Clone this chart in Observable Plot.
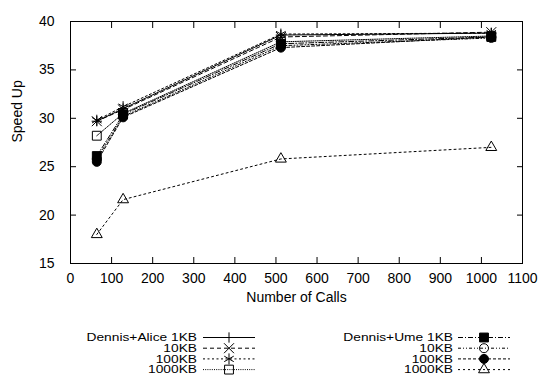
<!DOCTYPE html>
<html>
<head>
<meta charset="utf-8">
<script src="https://cdn.jsdelivr.net/npm/d3@7"></script>
<script src="https://cdn.jsdelivr.net/npm/@observablehq/plot@0.6"></script>
<style>
  html, body { margin: 0; padding: 0; background: white; }
  #chart { width: 543px; height: 385px; }
</style>
</head>
<body>
<div id="chart"></div>
<script>
// ---- data ----
const calls = [64, 128, 512, 1024];
const alice1KB    = [29.7, 31.0, 38.6, 38.8];
const alice10KB   = [29.7, 30.9, 38.4, 38.9];
const alice100KB  = [29.8, 31.2, 38.7, 38.8];
const alice1000KB = [28.2, 30.5, 37.9, 38.5];
const ume1KB      = [26.1, 30.4, 37.7, 38.4];
const ume10KB     = [25.8, 30.2, 37.5, 38.3];
const ume100KB    = [25.5, 30.1, 37.3, 38.4];
const ume1000KB   = [18.0, 21.6, 25.8, 27.0];
const seriesLabels = ["Dennis+Alice 1KB", "10KB", "100KB", "1000KB",
                      "Dennis+Ume 1KB", "10KB", "100KB", "1000KB"];
const xTicks = [0, 100, 200, 300, 400, 500, 600, 700, 800, 900, 1000, 1100];
const yTicks = [15, 20, 25, 30, 35, 40];
const xLabel = "Number of Calls";
const yLabel = "Speed Up";

// ---- styles ----
const styles = [
  {symbol: d3.symbolPlus,     r: 3.4, dash: null,          fill: "none"},
  {symbol: d3.symbolTimes,    r: 4.6, dash: "4,3",         fill: "none"},
  {symbol: d3.symbolAsterisk, r: 5.2, dash: "2,2.5",       fill: "none"},
  {symbol: d3.symbolSquare,   r: 5.0, dash: "1,1.2",       fill: "none"},
  {symbol: d3.symbolSquare,   r: 5.0, dash: "5,2,1,2",     fill: "black"},
  {symbol: d3.symbolCircle,   r: 4.5, dash: "3,2,1,2,1,2", fill: "none"},
  {symbol: d3.symbolCircle,   r: 4.5, dash: "3,2",         fill: "black"},
  {symbol: d3.symbolTriangle2,r: 5.2, dash: "2,3",         fill: "none"}
];
const values = [alice1KB, alice10KB, alice100KB, alice1000KB, ume1KB, ume10KB, ume100KB, ume1000KB];
const series = values.map((v, i) => calls.map((c, j) => ({x: c, y: v[j], s: i})));

const marks = [
  Plot.frame({stroke: "black", strokeWidth: 1}),
  // inward ticks on all four sides
  Plot.axisX(xTicks, {anchor: "bottom", tickSize: 6, dy: -6, tickFormat: () => "", label: null, stroke: "black"}),
  Plot.axisX(xTicks, {anchor: "top", tickSize: 6, dy: 6, tickFormat: () => "", label: null, stroke: "black"}),
  Plot.axisY(yTicks, {anchor: "left", tickSize: 6, dx: 6, tickFormat: () => "", label: null, stroke: "black"}),
  Plot.axisY(yTicks, {anchor: "right", tickSize: 6, dx: -6, tickFormat: () => "", label: null, stroke: "black"}),
  // tick labels
  Plot.axisX(xTicks, {anchor: "bottom", tickSize: 0, tickPadding: 10, label: null, fill: "black", tickFormat: d => String(d)}),
  Plot.axisY(yTicks, {anchor: "left", tickSize: 0, tickPadding: 16, label: null, fill: "black", tickFormat: d => String(d)}),
  Plot.text([xLabel], {frameAnchor: "bottom", dy: 38, fill: "black", fontSize: 14}),
  Plot.text([yLabel], {frameAnchor: "left", dx: -53, rotate: -90, fill: "black", fontSize: 14})
];
series.forEach((data, i) => {
  const st = styles[i];
  marks.push(Plot.line(data, {x: "x", y: "y", stroke: "black", strokeWidth: 1, strokeDasharray: st.dash}));
});
series.forEach((data, i) => {
  const st = styles[i];
  marks.push(Plot.dot(data, {x: "x", y: "y", symbol: st.symbol, r: st.r, stroke: "black", strokeWidth: 1, fill: st.fill}));
});

const chart = Plot.plot({
  width: 543,
  height: 385,
  marginLeft: 70,
  marginRight: 21,
  marginTop: 21,
  marginBottom: 122,
  style: {fontFamily: "'Liberation Sans', Arial, Helvetica, sans-serif", fontSize: "14px", background: "white", color: "black"},
  x: {domain: [0, 1100]},
  y: {domain: [15, 40]},
  marks
});
document.getElementById("chart").appendChild(chart);

// ---- legend (two columns, inside the same svg) ----
const svg = d3.select(chart);
const legend = svg.append("g").attr("font-family", "'Liberation Sans', Arial, Helvetica, sans-serif").attr("font-size", 11);
const columns = [{textEnd: 197, x1: 203, x2: 255}, {textEnd: 453, x1: 458, x2: 510}];
const rowY = [337.5, 348.2, 358.9, 369.6];
seriesLabels.forEach((label, i) => {
  const col = columns[Math.floor(i / 4)];
  const y = rowY[i % 4];
  const st = styles[i];
  const t = legend.append("text").attr("x", col.textEnd).attr("y", y).attr("dy", "0.35em")
    .attr("text-anchor", "end").attr("fill", "black").text(label);
  const w = t.node().getComputedTextLength();
  if (w > 0) t.attr("textLength", w * 1.25).attr("lengthAdjust", "spacingAndGlyphs");
  legend.append("line").attr("x1", col.x1).attr("x2", col.x2).attr("y1", y).attr("y2", y)
    .attr("stroke", "black").attr("stroke-width", 1)
    .attr("stroke-dasharray", st.dash);
  legend.append("path")
    .attr("transform", `translate(${(col.x1 + col.x2) / 2},${y})`)
    .attr("d", d3.symbol(st.symbol, st.r * st.r * Math.PI)())
    .attr("fill", st.fill).attr("stroke", "black").attr("stroke-width", 1);
});
</script>
</body>
</html>
